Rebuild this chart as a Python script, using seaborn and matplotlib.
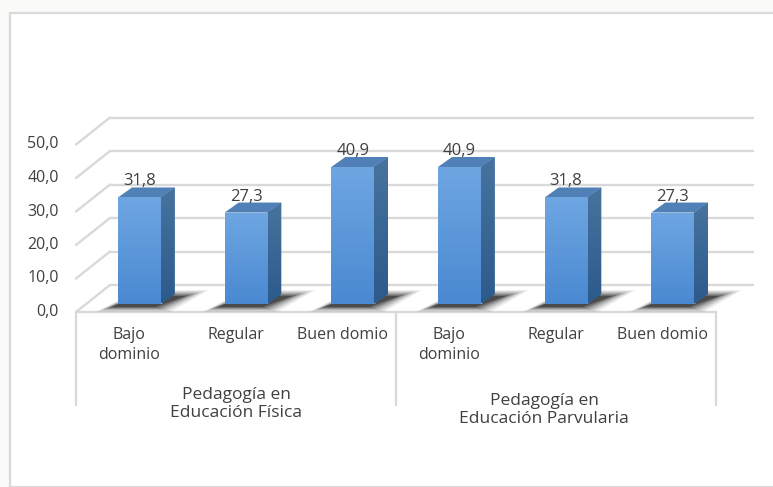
import numpy as np
import pandas as pd
import seaborn as sns
import matplotlib.pyplot as plt
from matplotlib.patches import Polygon, Rectangle
from matplotlib.colors import LinearSegmentedColormap

programs = ["Pedagogía en\nEducación Física", "Pedagogía en\nEducación Parvularia"]
levels = ["Bajo\ndominio", "Regular", "Buen domio"]
ef_values = [31.8, 27.3, 40.9]
ep_values = [40.9, 31.8, 27.3]
y_ticks = [0, 10, 20, 30, 40, 50]

rows = []
for prog, vals in zip(programs, [ef_values, ep_values]):
    for lev, v in zip(levels, vals):
        rows.append({"key": prog + "|" + lev, "program": prog, "level": lev, "value": v})
df = pd.DataFrame(rows)

sns.set_style("white")
plt.rcParams["font.family"] = ["Open Sans", "DejaVu Sans"]
TXT = "#404040"
GRID = "#d9d9d9"

W, H = 773, 487
fig = plt.figure(figsize=(W / 100, H / 100), dpi=100, facecolor="#fafaf8")
fig.patches.append(Rectangle((10 / W, 0), 1, (H - 13) / H, transform=fig.transFigure,
                             facecolor="white", edgecolor=GRID, lw=1.6, zorder=-5))

# axes = the plane where the bars stand
PX_CAT = 640 / 6
PX_VAL = 3.35
YMAX = 55
ax = fig.add_axes([86 / W, (H - 304) / H, 640 / W, YMAX * PX_VAL / H])
ax.patch.set_alpha(0)

sns.barplot(data=df, x="key", y="value", order=list(df["key"]), width=0.4,
            color="#5b9bd5", saturation=1, ax=ax, zorder=3)
bars = list(ax.patches)


def off(x, y, dxp, dyp):
    return x + dxp / PX_CAT, y - dyp / PX_VAL


FRONT = (-10, 8)
BACK = (24, -19)
DEPTH = (14, -10)

# back wall grid + left wall diagonals
for v in y_ticks:
    x0, y0 = off(-0.5, v, *BACK)
    x1, _ = off(5.5, v, BACK[0] + 3, BACK[1])
    ax.plot([x0, x1], [y0, y0], color=GRID, lw=1.7, clip_on=False, zorder=0.5)
    fx, fy = off(-0.5, v, *FRONT)
    ax.plot([fx, x0], [fy, y0], color=GRID, lw=1.7, clip_on=False, zorder=0.5)
    ax.text(*off(-0.5, v, FRONT[0] - 17, FRONT[1]), f"{v:.1f}".replace(".", ","),
            ha="right", va="center", fontsize=11.5, color=TXT)

# floor front edge and category box
fx0, fy0 = off(-0.5, 0, *FRONT)
fx1, _ = off(5.5, 0, *FRONT)
ax.plot([fx0, fx1], [fy0, fy0], color=GRID, lw=1.7, clip_on=False, zorder=0.5)
for xb in [-0.5, 2.5, 5.5]:
    bx, _ = off(xb, 0, *FRONT)
    _, by = off(xb, 0, FRONT[0], 101)
    ax.plot([bx, bx], [fy0, by], color=GRID, lw=1.7, clip_on=False, zorder=0.5)

for i, row in df.iterrows():
    ax.text(*off(i, 0, FRONT[0], 23), row["level"], ha="center", va="top",
            fontsize=11.5, color=TXT, linespacing=1.3)

group_dx = [0, -12]
group_dy = [0, 6]
for g, prog in enumerate(programs):
    ax.text(*off(3 * g + 1, 0, FRONT[0] + group_dx[g], 100 + group_dy[g]), prog,
            ha="center", va="center", fontsize=12.5, color=TXT, linespacing=1.1)


def gradient(patch, extent, c_top, c_bot, z):
    cmap = LinearSegmentedColormap.from_list("g", [c_bot, c_top])
    im = ax.imshow(np.linspace(0, 1, 64).reshape(-1, 1), cmap=cmap, extent=extent,
                   origin="lower", aspect="auto", zorder=z, interpolation="bicubic")
    im.set_clip_path(patch)


for p in bars:
    L = p.get_x()
    R = L + p.get_width()
    h = p.get_height()
    ddx, ddy = DEPTH[0] / PX_CAT, -DEPTH[1] / PX_VAL

    # soft shadow on the floor
    for k, a in enumerate([0.08, 0.12, 0.16, 0.22, 0.30, 0.40]):
        s = k * 3
        pts = [off(L, 0, -22 + s, 8 - k), off(R, 0, 10 - s, 8 - k),
               off(R, 0, 48 - s * 1.5, -14 + k * 1.2), off(L, 0, 20, -14 + k * 1.2)]
        ax.add_patch(Polygon(pts, closed=True, facecolor="#1a1a1a", edgecolor="none",
                             alpha=a, zorder=1, clip_on=False))

    gradient(p, [L, R, 0, h], "#6ea6e2", "#4a89d1", 3.1)

    side = Polygon([(R, 0), (R + ddx, ddy), (R + ddx, h + ddy), (R, h)], closed=True,
                   facecolor="#3a6a9f", edgecolor="none", zorder=2.9, clip_on=False)
    ax.add_patch(side)
    gradient(side, [R, R + ddx, 0, h + ddy], "#48739f", "#2c5a8b", 3)

    top = Polygon([(L, h), (R, h), (R + ddx, h + ddy), (L + ddx, h + ddy)], closed=True,
                  facecolor="#5080b6", edgecolor="none", zorder=3, clip_on=False)
    ax.add_patch(top)

    ax.annotate(f"{h:.1f}".replace(".", ","), ((L + R) / 2, h), xytext=(0, 12),
                textcoords="offset pixels", ha="center", va="baseline",
                fontsize=12, color=TXT, zorder=4)

ax.set_xlim(-0.5, 5.5)
ax.set_ylim(0, YMAX)
ax.set_axis_off()

fig.savefig("out.png", dpi=100, facecolor=fig.get_facecolor())
